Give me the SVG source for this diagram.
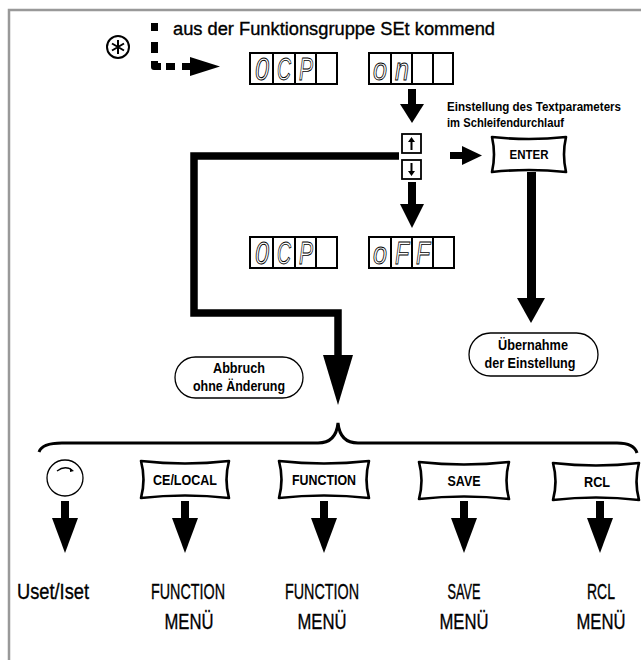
<svg xmlns="http://www.w3.org/2000/svg" width="641" height="660" viewBox="0 0 641 660">
<defs>
<style>
.frame{stroke:#999;stroke-width:2.5;fill:none}
.disp{fill:#fff;stroke:#000;stroke-width:2}
.seg{font-family:"Liberation Sans",Arial,sans-serif;font-style:italic;font-size:31px;fill:none;stroke:#000;stroke-width:0.9;text-anchor:middle}
.thick{fill:none;stroke:#000;stroke-width:7.5;stroke-linejoin:miter}
.t{font-family:"Liberation Sans",Arial,sans-serif;fill:#000}
.b{font-weight:bold}
.m{stroke:#000;stroke-width:0.35}
.btn{fill:#fff;stroke:#000;stroke-width:2.6;stroke-linejoin:round}
.pill{fill:#fff;stroke:#000;stroke-width:1.3}
</style>
</defs>
<rect width="641" height="660" fill="#fff"/>
<path class="frame" d="M9 660 V10 H641"/>

<g id="star">
<circle cx="118" cy="47" r="11" fill="none" stroke="#000" stroke-width="2"/>
<path d="M118 40 V54 M112 43.5 L124 50.5 M112 50.5 L124 43.5" stroke="#000" stroke-width="2"/>
</g>

<g id="title">
<text class="t m" x="173" y="35" font-size="18" textLength="322" lengthAdjust="spacingAndGlyphs">aus der Funktionsgruppe SEt kommend</text>
</g>

<g id="display-ocp-top">
<rect class="disp" x="250" y="53" width="87" height="31"/>
<path d="M273 53 V84 M295 53 V84 M316 53 V84" stroke="#000" stroke-width="2"/>
<text class="seg" x="262" y="80" textLength="14" lengthAdjust="spacingAndGlyphs">0</text>
<text class="seg" x="284" y="80" textLength="14" lengthAdjust="spacingAndGlyphs">C</text>
<text class="seg" x="306" y="80" textLength="14" lengthAdjust="spacingAndGlyphs">P</text>
</g>
<g id="display-on">
<rect class="disp" x="369" y="53" width="84" height="31"/>
<path d="M391 53 V84 M412 53 V84 M433 53 V84" stroke="#000" stroke-width="2"/>
<text class="seg" x="380" y="80" textLength="14" lengthAdjust="spacingAndGlyphs">o</text>
<text class="seg" x="402" y="80" textLength="14" lengthAdjust="spacingAndGlyphs">n</text>
</g>
<g id="display-ocp-bottom">
<rect class="disp" x="250" y="237" width="87" height="31"/>
<path d="M273 237 V268 M295 237 V268 M316 237 V268" stroke="#000" stroke-width="2"/>
<text class="seg" x="262" y="264" textLength="14" lengthAdjust="spacingAndGlyphs">0</text>
<text class="seg" x="284" y="264" textLength="14" lengthAdjust="spacingAndGlyphs">C</text>
<text class="seg" x="306" y="264" textLength="14" lengthAdjust="spacingAndGlyphs">P</text>
</g>
<g id="display-off">
<rect class="disp" x="369" y="237" width="85" height="31"/>
<path d="M391 237 V268 M412 237 V268 M433 237 V268" stroke="#000" stroke-width="2"/>
<text class="seg" x="380" y="264" textLength="14" lengthAdjust="spacingAndGlyphs">o</text>
<text class="seg" x="402" y="264" textLength="14" lengthAdjust="spacingAndGlyphs">F</text>
<text class="seg" x="423" y="264" textLength="14" lengthAdjust="spacingAndGlyphs">F</text>
</g>

<g id="updown-keys">
<rect x="402" y="134" width="19" height="19" fill="#fff" stroke="#000" stroke-width="1.8"/>
<rect x="402" y="160" width="19" height="19" fill="#fff" stroke="#000" stroke-width="1.8"/>
<path d="M411.5 150 V141 M411.5 163 V172" stroke="#000" stroke-width="2"/>
<path d="M408 142 L411.5 137 L415 142 Z M408 171 L411.5 176 L415 171 Z" fill="#000"/>
</g>

<g id="note">
<text class="t b" x="447" y="111" font-size="13" textLength="174" lengthAdjust="spacingAndGlyphs">Einstellung des Textparameters</text>
<text class="t b" x="447" y="127" font-size="13" textLength="117" lengthAdjust="spacingAndGlyphs">im Schleifendurchlauf</text>
</g>

<g id="enter">
<path class="btn" d="M492 137 Q529 141 566 137 Q562 154.5 566 172 Q529 168 492 172 Q496 154.5 492 137 Z"/>
<text class="t b" x="529" y="159" font-size="12.5" text-anchor="middle" textLength="39" lengthAdjust="spacingAndGlyphs">ENTER</text>
</g>

<g id="uebernahme">
<rect class="pill" x="469" y="333" width="129" height="43" rx="21.5"/>
<text class="t b" x="533" y="350" font-size="14.5" text-anchor="middle" textLength="70" lengthAdjust="spacingAndGlyphs">Übernahme</text>
<text class="t b" x="530" y="368" font-size="14.5" text-anchor="middle" textLength="91" lengthAdjust="spacingAndGlyphs">der Einstellung</text>
</g>

<g id="abbruch">
<rect class="pill" x="175" y="357" width="128" height="41" rx="20.5"/>
<text class="t b" x="239" y="373" font-size="14.5" text-anchor="middle" textLength="52" lengthAdjust="spacingAndGlyphs">Abbruch</text>
<text class="t b" x="239" y="391" font-size="14.5" text-anchor="middle" textLength="92" lengthAdjust="spacingAndGlyphs">ohne Änderung</text>
</g>

<g id="knob">
<circle cx="65" cy="478" r="18" fill="#fff" stroke="#000" stroke-width="1.3"/>
<path d="M57 471 Q65 465 72 470" fill="none" stroke="#000" stroke-width="1.3"/>
<path d="M70 468 L74 471 L70 472 Z" fill="#000"/>
</g>
<g id="btn-celocal">
<path class="btn" d="M141 461 Q185 466 229 461 Q224 479.5 229 498 Q185 493 141 498 Q146 479.5 141 461 Z"/>
<text class="t b" x="185" y="485" font-size="15" text-anchor="middle" textLength="64" lengthAdjust="spacingAndGlyphs">CE/LOCAL</text>
</g>
<g id="btn-function">
<path class="btn" d="M279 461 Q324 466 369 461 Q364 479.5 369 498 Q324 493 279 498 Q284 479.5 279 461 Z"/>
<text class="t b" x="324" y="485" font-size="15" text-anchor="middle" textLength="64" lengthAdjust="spacingAndGlyphs">FUNCTION</text>
</g>
<g id="btn-save">
<path class="btn" d="M419 462 Q464 467 509 462 Q504 480.5 509 499 Q464 494 419 499 Q424 480.5 419 462 Z"/>
<text class="t b" x="464" y="486" font-size="15" text-anchor="middle" textLength="33" lengthAdjust="spacingAndGlyphs">SAVE</text>
</g>
<g id="btn-rcl">
<path class="btn" d="M553 463 Q596 468 639 463 Q634 481.5 639 500 Q596 495 553 500 Q558 481.5 553 463 Z"/>
<text class="t b" x="597" y="487" font-size="15" text-anchor="middle" textLength="26" lengthAdjust="spacingAndGlyphs">RCL</text>
</g>

<g id="label-uset">
<text class="t m" x="53" y="599" font-size="22" text-anchor="middle" textLength="72" lengthAdjust="spacingAndGlyphs">Uset/Iset</text>
</g>
<g id="label-function1">
<text class="t m" x="188" y="599" font-size="22" text-anchor="middle" textLength="74" lengthAdjust="spacingAndGlyphs">FUNCTION</text>
<text class="t m" x="189" y="629" font-size="22" text-anchor="middle" textLength="49" lengthAdjust="spacingAndGlyphs">MENÜ</text>
</g>
<g id="label-function2">
<text class="t m" x="322" y="599" font-size="22" text-anchor="middle" textLength="74" lengthAdjust="spacingAndGlyphs">FUNCTION</text>
<text class="t m" x="322" y="629" font-size="22" text-anchor="middle" textLength="49" lengthAdjust="spacingAndGlyphs">MENÜ</text>
</g>
<g id="label-save">
<text class="t m" x="464" y="599" font-size="22" text-anchor="middle" textLength="33" lengthAdjust="spacingAndGlyphs">SAVE</text>
<text class="t m" x="464" y="629" font-size="22" text-anchor="middle" textLength="49" lengthAdjust="spacingAndGlyphs">MENÜ</text>
</g>
<g id="label-rcl">
<text class="t m" x="601" y="599" font-size="22" text-anchor="middle" textLength="28" lengthAdjust="spacingAndGlyphs">RCL</text>
<text class="t m" x="601" y="629" font-size="22" text-anchor="middle" textLength="49" lengthAdjust="spacingAndGlyphs">MENÜ</text>
</g>

<g id="connectors">
<g fill="#000">
<rect x="151" y="23" width="7" height="8"/>
<rect x="151" y="42" width="7" height="11"/>
<path d="M151 61 H158 V63 H161 V70 H154 Q151 70 151 67 Z"/>
<rect x="166" y="63" width="9" height="7"/>
<rect x="182" y="63" width="10" height="7"/>
<polygon points="190,57 220,66.5 190,76"/>
</g>
<g fill="#000">
<rect x="408" y="89" width="8" height="16"/>
<polygon points="400,104 424,104 412,123"/>
<rect x="408" y="182" width="8" height="23"/>
<polygon points="400,204 424,204 412,228"/>
<rect x="450" y="152" width="13" height="7"/>
<polygon points="462,146 482,155.5 462,165"/>
<rect x="527" y="172" width="9" height="128"/>
<polygon points="517,298 545,298 531,323"/>
</g>
<path class="thick" d="M399 156 H194 V313 H338 V357"/>
<polygon points="323,355 353,355 338,405" fill="#000"/>
<path d="M39 452 Q42 443 62 443 H318 Q336 443 338 423 Q340 443 358 443 H617 Q634 443 637 453" fill="none" stroke="#000" stroke-width="3"/>
<g fill="#000">
<rect x="61" y="501" width="8" height="18"/><polygon points="52,518 78,518 65,553"/>
<rect x="181" y="501" width="8" height="18"/><polygon points="172,518 198,518 185,553"/>
<rect x="320" y="501" width="8" height="18"/><polygon points="311,518 337,518 324,553"/>
<rect x="460" y="501" width="8" height="18"/><polygon points="451,518 477,518 464,553"/>
<rect x="596" y="501" width="8" height="18"/><polygon points="587,518 613,518 600,553"/>
</g>
</g>
</svg>
